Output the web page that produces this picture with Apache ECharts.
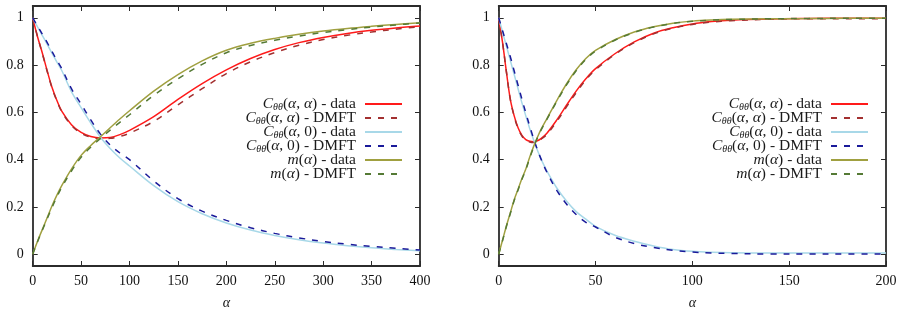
<!DOCTYPE html>
<html>
<head>
<meta charset="utf-8">
<script src="https://cdn.jsdelivr.net/npm/echarts@6/dist/echarts.min.js"></script>
<style>
html, body { margin: 0; padding: 0; background: #fff; }
#main { width: 902px; height: 315px; }
</style>
</head>
<body>
<div id="main"></div>
<script>
// left panel, alpha 0..400
var xLeft = [0, 5, 10, 15, 20, 25, 30, 40, 50, 60, 70, 80, 90, 100, 125, 150, 175, 200, 225, 250, 275, 300, 325, 350, 375, 400];
var caaDataL = [1, 0.92, 0.85, 0.775, 0.705, 0.65, 0.605, 0.548, 0.515, 0.498, 0.492, 0.494, 0.506, 0.524, 0.582, 0.655, 0.722, 0.78, 0.828, 0.866, 0.895, 0.917, 0.934, 0.947, 0.957, 0.965];
var caaDmftL = [1, 0.92, 0.848, 0.773, 0.703, 0.648, 0.603, 0.545, 0.512, 0.495, 0.489, 0.49, 0.498, 0.512, 0.562, 0.632, 0.70, 0.764, 0.814, 0.853, 0.884, 0.908, 0.926, 0.94, 0.952, 0.962];
var ca0DataL = [1, 0.962, 0.925, 0.888, 0.85, 0.813, 0.777, 0.688, 0.62, 0.555, 0.495, 0.447, 0.407, 0.373, 0.29, 0.222, 0.171, 0.132, 0.102, 0.079, 0.061, 0.047, 0.036, 0.027, 0.02, 0.014];
var ca0DmftL = [1, 0.965, 0.93, 0.895, 0.857, 0.82, 0.785, 0.70, 0.635, 0.568, 0.508, 0.462, 0.428, 0.4, 0.31, 0.235, 0.182, 0.143, 0.112, 0.088, 0.069, 0.054, 0.042, 0.033, 0.025, 0.018];
var mDataL = [0, 0.055, 0.105, 0.155, 0.205, 0.25, 0.29, 0.36, 0.418, 0.46, 0.497, 0.535, 0.572, 0.607, 0.69, 0.76, 0.818, 0.863, 0.892, 0.913, 0.93, 0.944, 0.955, 0.964, 0.972, 0.979];
var mDmftL = [0, 0.053, 0.102, 0.15, 0.198, 0.243, 0.283, 0.352, 0.41, 0.453, 0.49, 0.525, 0.558, 0.59, 0.672, 0.742, 0.803, 0.852, 0.883, 0.905, 0.923, 0.938, 0.95, 0.961, 0.97, 0.978];

// right panel, alpha 0..200
var xRight = [0, 2, 4, 6, 8, 10, 12, 14, 16, 18, 20, 22, 25, 30, 35, 40, 45, 50, 60, 70, 80, 90, 100, 110, 120, 140, 160, 180, 200];
var caaDataR = [1, 0.895, 0.77, 0.655, 0.585, 0.535, 0.503, 0.485, 0.478, 0.476, 0.48, 0.49, 0.513, 0.568, 0.63, 0.69, 0.742, 0.785, 0.848, 0.898, 0.935, 0.958, 0.974, 0.984, 0.99, 0.995, 0.997, 0.998, 0.998];
var caaDmftR = [1, 0.895, 0.77, 0.655, 0.583, 0.532, 0.5, 0.482, 0.475, 0.473, 0.477, 0.487, 0.508, 0.562, 0.623, 0.683, 0.737, 0.78, 0.845, 0.895, 0.932, 0.956, 0.972, 0.982, 0.988, 0.994, 0.996, 0.996, 0.996];
var ca0DataR = [1, 0.94, 0.88, 0.82, 0.76, 0.70, 0.64, 0.585, 0.532, 0.484, 0.44, 0.4, 0.35, 0.28, 0.225, 0.18, 0.148, 0.118, 0.08, 0.055, 0.035, 0.02, 0.012, 0.008, 0.006, 0.005, 0.005, 0.005, 0.005];
var ca0DmftR = [1, 0.945, 0.89, 0.835, 0.775, 0.715, 0.655, 0.598, 0.542, 0.49, 0.442, 0.4, 0.345, 0.27, 0.212, 0.168, 0.135, 0.115, 0.072, 0.045, 0.028, 0.016, 0.009, 0.005, 0.003, 0.001, 0.001, 0.001, 0.001];
var mDataR = [0, 0.06, 0.12, 0.175, 0.23, 0.275, 0.32, 0.36, 0.41, 0.455, 0.495, 0.53, 0.575, 0.65, 0.72, 0.78, 0.828, 0.862, 0.907, 0.94, 0.962, 0.977, 0.986, 0.991, 0.994, 0.996, 0.997, 0.998, 0.998];
var mDmftR = [0, 0.058, 0.118, 0.172, 0.227, 0.272, 0.317, 0.357, 0.406, 0.452, 0.492, 0.527, 0.572, 0.646, 0.716, 0.776, 0.824, 0.859, 0.905, 0.938, 0.961, 0.976, 0.985, 0.99, 0.993, 0.996, 0.997, 0.998, 0.998];

var yTicks = [0, 0.2, 0.4, 0.6, 0.8, 1];

var font = "Liberation Serif";
var frame = "#2b2b2b";
var colors = {
  caaData: "#ff1a1a",
  caaDmft: "#a33030",
  ca0Data: "#a8d8e8",
  ca0Dmft: "#1a1a9a",
  mData: "#a0a040",
  mDmft: "#557a35"
};

function pairs(xs, ys) {
  return xs.map(function (x, i) { return [x, ys[i]]; });
}

function xAxis(grid, max, pos) {
  return {
    type: "value", gridIndex: grid, min: 0, max: max, interval: 50, position: pos,
    name: pos === "bottom" ? "α" : "", nameLocation: "middle", nameGap: 30,
    nameTextStyle: { fontFamily: font, fontStyle: "italic", fontSize: 14, color: "#111" },
    axisLine: { show: true, onZero: false, lineStyle: { color: frame, width: 1.8 } },
    axisTick: { show: true, inside: true, length: 5, lineStyle: { color: frame } },
    axisLabel: { show: pos === "bottom", margin: 8, fontFamily: font, fontSize: 14, color: "#111" },
    splitLine: { show: false }
  };
}

function yAxis(grid, pos) {
  return {
    type: "value", gridIndex: grid, min: -0.05, max: 1.05, position: pos,
    axisLine: { show: true, onZero: false, lineStyle: { color: frame, width: 1.8 } },
    axisTick: { show: true, inside: true, length: 5, customValues: yTicks, lineStyle: { color: frame } },
    axisLabel: { show: pos === "left", margin: 9, customValues: yTicks, fontFamily: font, fontSize: 14, color: "#111" },
    splitLine: { show: false }
  };
}

function line(name, xs, ys, color, dashed, axis) {
  return {
    name: name, type: "line", xAxisIndex: axis, yAxisIndex: axis,
    data: pairs(xs, ys), smooth: 0.35,
    showSymbol: false, symbol: "none", silent: true, animation: false,
    lineStyle: { color: color, width: 1.5, type: dashed ? [6, 7] : "solid" },
    itemStyle: { color: color }
  };
}

var labels = {
  caaData: "{i|C}{s|θθ}{n|(}{i|α}{n|, }{i|α}{n|) - data}{g| }",
  caaDmft: "{i|C}{s|θθ}{n|(}{i|α}{n|, }{i|α}{n|) - DMFT}{g| }",
  ca0Data: "{i|C}{s|θθ}{n|(}{i|α}{n|, 0) - data}{g| }",
  ca0Dmft: "{i|C}{s|θθ}{n|(}{i|α}{n|, 0) - DMFT}{g| }",
  mData: "{i|m}{n|(}{i|α}{n|) - data}{g| }",
  mDmft: "{i|m}{n|(}{i|α}{n|) - DMFT}{g| }"
};
var keys = ["caaData", "caaDmft", "ca0Data", "ca0Dmft", "mData", "mDmft"];
var rowCenters = [103, 117, 131, 145, 159, 173];

var rich = {
  i: { fontFamily: font, fontStyle: "italic", fontSize: 15.5, lineHeight: 14, color: "#1a1a1a" },
  n: { fontFamily: font, fontSize: 15.5, lineHeight: 14, color: "#1a1a1a" },
  s: { fontFamily: font, fontStyle: "italic", fontSize: 10, lineHeight: 10, padding: [6, 0, 0, 0], color: "#1a1a1a" },
  g: { fontSize: 4, width: 4 }
};

var legends = [];
var series = [];
[["L", xLeft, 0, 499], ["R", xRight, 2, 33]].forEach(function (p) {
  var vals = p[0] === "L"
    ? [caaDataL, caaDmftL, ca0DataL, ca0DmftL, mDataL, mDmftL]
    : [caaDataR, caaDmftR, ca0DataR, ca0DmftR, mDataR, mDmftR];
  keys.forEach(function (k, i) {
    var name = k + p[0];
    series.push(line(name, p[1], vals[i], colors[k], i % 2 === 1, p[2]));
    legends.push({
      data: [name], right: p[3], top: rowCenters[i] - 7, orient: "vertical", align: "right",
      itemWidth: 37, itemHeight: 14, padding: 0, selectedMode: false,
      itemStyle: { opacity: 0 },
      formatter: function () { return labels[k]; },
      textStyle: { rich: rich }
    });
  });
});

var option = {
  backgroundColor: "#fff",
  animation: false,
  grid: [
    { left: 32.7, top: 6, width: 387.3, height: 262.7 },
    { left: 498.7, top: 6, width: 387.3, height: 262.7 }
  ],
  xAxis: [xAxis(0, 400, "bottom"), xAxis(0, 400, "top"), xAxis(1, 200, "bottom"), xAxis(1, 200, "top")],
  yAxis: [yAxis(0, "left"), yAxis(0, "right"), yAxis(1, "left"), yAxis(1, "right")],
  legend: legends,
  series: series
};

var myChart = echarts.init(document.getElementById("main"));
myChart.setOption(option);
</script>
</body>
</html>
